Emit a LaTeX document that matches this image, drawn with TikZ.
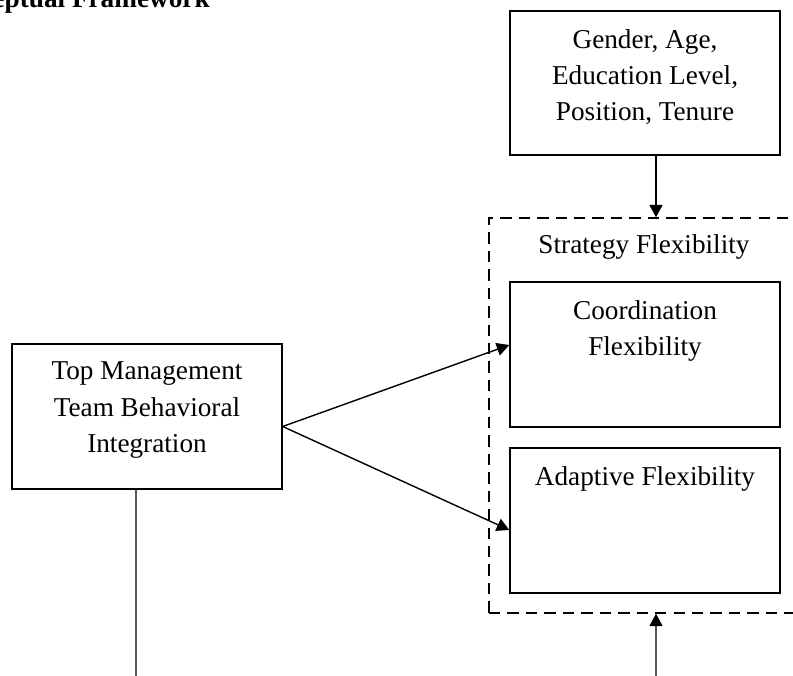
\documentclass[tikz,border=0pt]{standalone}
\usepackage{fontspec}
\setmainfont{Liberation Serif}
\usetikzlibrary{arrows.meta, positioning}

\begin{document}
\begin{tikzpicture}[x=0.02cm, y=-0.02cm,
    box/.style={draw, line width=0.8pt, minimum width=5.4cm, minimum height=2.9cm, inner sep=0pt},
    txt/.style={align=center, inner sep=0pt, font=\fontsize{15.5}{20.7}\selectfont},
    intext/.style={label={[txt, anchor=north, yshift=-0.37cm]north:#1}},
    link/.style={-{Triangle[length=2.5mm, width=2.6mm]}, line width=0.8pt},
    groupbox/.style={draw, line width=0.8pt, dash pattern=on 6.5pt off 4pt, inner sep=0pt}
  ]
  \clip (0,0) rectangle (793,675);

  % heading, cut by the page edge
  \node[anchor=base east, inner sep=0pt, font=\fontsize{15.5}{18}\selectfont\bfseries] (title) at (210,8) {Conceptual Framework};

  % boxes
  \node[box, minimum height=2.88cm, intext={Gender, Age,\\ Education Level,\\ Position, Tenure}] (ctrl) at (645,83) {};
  \node[groupbox, minimum width=6.24cm, minimum height=7.9cm] (sf) at (645,415.5) {};
  \node[txt, anchor=base] (sflabel) at (644,254) {Strategy Flexibility};
  \node[box, intext={Coordination\\ Flexibility}] (coord) at (645,354.5) {};
  \node[box, intext={Adaptive Flexibility}] (adapt) at (645,520.5) {};
  \node[box, intext={Top Management\\ Team Behavioral\\ Integration}] (tmt) at (147,416.5) {};

  % free ends below the page
  \coordinate (tmtout) at (136,700);
  \coordinate (sfin) at (656,700);

  % connectors
  \draw[link] ([xshift=0.22cm]ctrl.south) -- ([xshift=0.22cm]sf.north);
  \draw[link] ([yshift=-0.2cm]tmt.east) -- ([yshift=0.19cm]coord.west);
  \draw[link] ([yshift=-0.2cm]tmt.east) -- ([yshift=-0.19cm]adapt.west);
  \draw[line width=0.8pt] ([xshift=-0.22cm]tmt.south) -- (tmtout);
  \draw[link] (sfin) -- ([xshift=0.22cm]sf.south);
\end{tikzpicture}
\end{document}
